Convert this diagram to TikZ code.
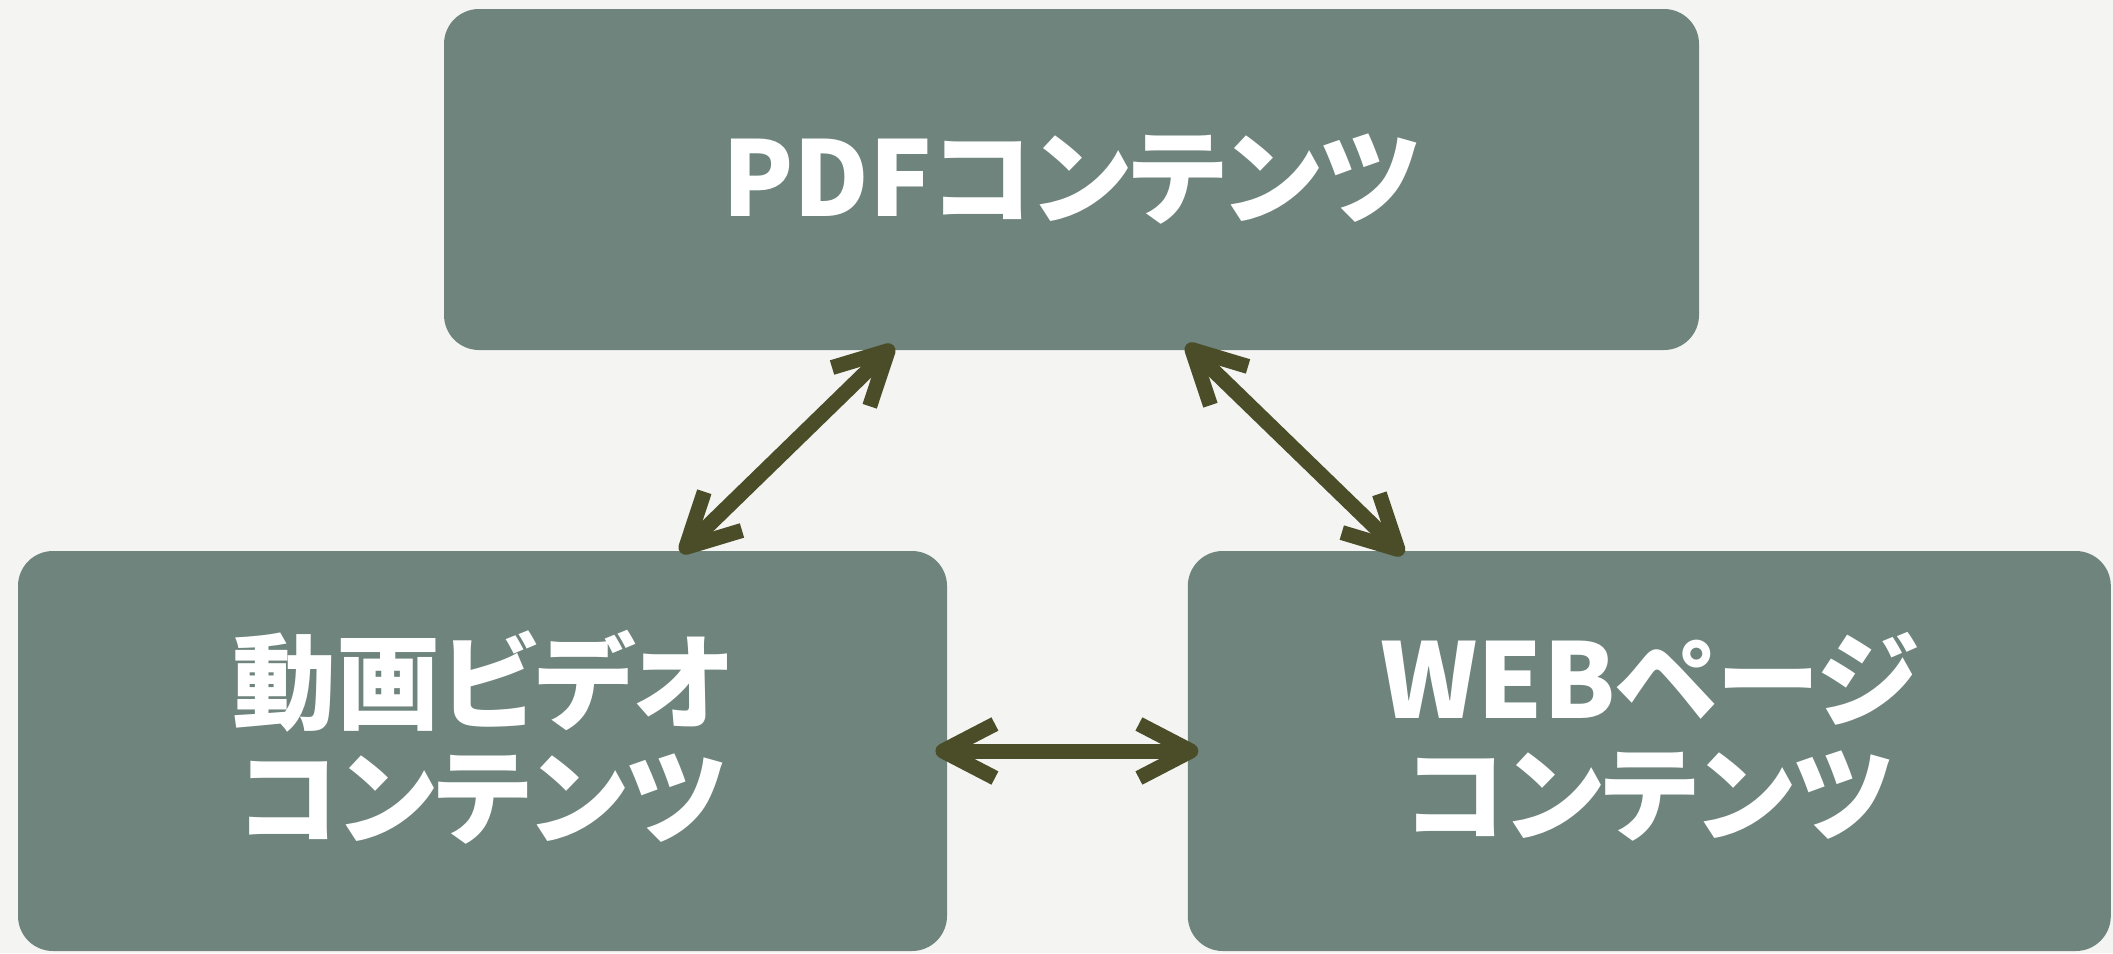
\documentclass[tikz,border=0pt]{standalone}
\usepackage{fontspec}
\setmainfont{Noto Sans CJK JP}[RawFeature={+palt}]
\usepackage{tikz}
\usetikzlibrary{positioning,arrows.meta}
\definecolor{PaperWhite}{HTML}{F4F4F3}
\definecolor{SlateGreen}{HTML}{6E847D}
\definecolor{OliveDark}{HTML}{4A4D27}

\begin{document}
\begin{tikzpicture}[x=0.5pt, y=-0.5pt,
                    >={Straight Barb[length=26pt, width=27pt, line cap=butt, line join=round]},
                    box/.style={fill=SlateGreen, rounded corners=17.5pt, align=center, inner sep=0pt,
                                text=white, font=\fontsize{52pt}{57.5pt}\selectfont\bfseries},
                    link/.style={draw=OliveDark, line width=7.5pt, <->}]
\fill[PaperWhite] (0,0) rectangle (2113,953);
\node[box, minimum width=627.5pt, minimum height=170.5pt] (pdf) at (1071.5,179.5) {PDFコンテンツ};
\node[box, minimum width=464.5pt, minimum height=200pt, text depth=18pt] (video) at (482.5,751) {動画ビデオ\\コンテンツ};
\node[box, minimum width=461.5pt, minimum height=200pt, text depth=18pt, right=120pt of video] (web) {WEBページ\\コンテンツ};
\draw[link] ([xshift=99pt, yshift=-1pt]video.north) -- ([xshift=-89pt, yshift=2.5pt]pdf.south);
\draw[link] ([xshift=57.5pt, yshift=3pt]pdf.south) -- ([xshift=-123pt, yshift=-2pt]web.north);
\draw[link] ([xshift=-6pt]video.east) -- ([xshift=5.5pt]web.west);
\end{tikzpicture}
\end{document}
